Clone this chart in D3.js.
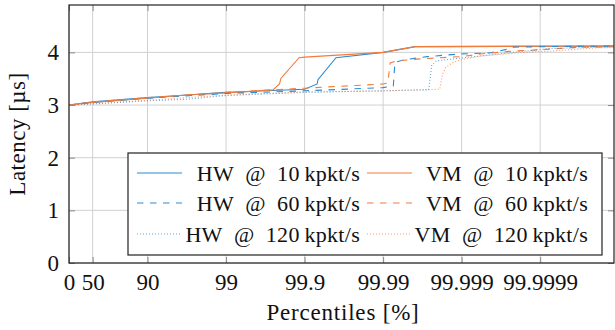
<!DOCTYPE html>
<html><head><meta charset="utf-8">
<script src="https://cdn.jsdelivr.net/npm/d3@7"></script>
<style>body{margin:0;background:#fff}</style>
</head><body><svg id="c" width="615" height="330"></svg>
<script>
// x values are in "nines": -log10(1 - p/100)
const tickLabels = ["0","50","90","99","99.9","99.99","99.999","99.9999"];
const yTicks = [0,1,2,3,4];
const seriesNames = ["HW\u2002@\u200210\u2009kpkt/s","VM\u2002@\u200210\u2009kpkt/s","HW\u2002@\u200260\u2009kpkt/s","VM\u2002@\u200260\u2009kpkt/s","HW\u2002@\u2002120\u2009kpkt/s","VM\u2002@\u2002120\u2009kpkt/s"];
const hw10x = [0,0.30,1.0,1.5,2.0,3.0,3.16,3.17,3.40,4.0,4.41,6.94];
const hw10y = [3.00,3.06,3.14,3.19,3.24,3.30,3.40,3.48,3.90,4.00,4.11,4.12];
const vm10x = [0,0.30,1.0,1.5,2.0,2.60,2.68,2.70,2.93,3.0,4.0,4.41,6.94];
const vm10y = [3.00,3.05,3.13,3.19,3.23,3.29,3.40,3.51,3.90,3.91,4.00,4.11,4.12];
const hw60x = [0,0.30,1.0,2.0,3.0,4.0,4.13,4.15,4.27,4.56,4.98,5.36,5.58,5.66,6.10,6.94];
const hw60y = [3.00,3.05,3.13,3.22,3.27,3.33,3.36,3.81,3.86,3.92,3.97,3.99,4.06,4.10,4.11,4.12];
const vm60x = [0,0.30,1.0,2.0,3.0,4.0,4.06,4.09,4.18,4.5,5.0,5.24,5.6,6.0,6.4,6.8,6.94];
const vm60y = [3.00,3.06,3.14,3.24,3.32,3.40,3.42,3.80,3.84,3.88,3.92,3.97,4.02,4.05,4.09,4.11,4.12];
const hw120x = [0,0.30,1.0,1.5,2.0,3.0,4.0,4.58,4.62,4.68,4.98,5.66,6.09,6.5,6.94];
const hw120y = [3.00,3.02,3.08,3.11,3.18,3.24,3.27,3.29,3.76,3.84,3.89,4.00,4.07,4.09,4.10];
const vm120x = [0,0.30,1.0,2.0,3.0,4.0,4.72,4.76,4.80,4.88,4.98,5.24,5.95,6.09,6.76,6.94];
const vm120y = [3.00,3.03,3.09,3.19,3.25,3.27,3.30,3.60,3.72,3.80,3.86,3.93,4.02,4.02,4.09,4.09];

const FONT = '"Liberation Serif","DejaVu Serif",serif';
const blue = "#2a8cd2", orange = "#f37b3a";
const series = [
  {name:seriesNames[0], xs:hw10x, ys:hw10y, color:blue, dash:null, op:1},
  {name:seriesNames[1], xs:vm10x, ys:vm10y, color:orange, dash:null, op:1},
  {name:seriesNames[2], xs:hw60x, ys:hw60y, color:blue, dash:"6.5,6.5", op:1},
  {name:seriesNames[3], xs:vm60x, ys:vm60y, color:orange, dash:"6.5,6.5", op:1},
  {name:seriesNames[4], xs:hw120x, ys:hw120y, color:blue, dash:"1,2", op:0.75},
  {name:seriesNames[5], xs:vm120x, ys:vm120y, color:orange, dash:"1,2", op:0.75}
];

const L=69, R=614, T=5, B=263;
const pctToNines = p => -Math.log10(1 - p/100);
const x = d3.scaleLinear().domain([0, 6.94]).range([L, R]);
const y = d3.scaleLinear().domain([0, 4.9]).range([B, T]);
const svg = d3.select("#c");

const xTickVals = tickLabels.map(s => pctToNines(+s));
// grid
svg.append("g").selectAll("line").data(xTickVals).join("line")
  .attr("x1", d=>x(d)).attr("x2", d=>x(d)).attr("y1", T).attr("y2", B)
  .attr("stroke", "#d0d0d0").attr("stroke-width", 1);
svg.append("g").selectAll("line").data(yTicks).join("line")
  .attr("x1", L).attr("x2", R).attr("y1", d=>y(d)).attr("y2", d=>y(d))
  .attr("stroke", "#d0d0d0").attr("stroke-width", 1);

// axes (ticks inside)
const xAxis = d3.axisBottom(x).tickValues(xTickVals).tickSizeInner(-6).tickSizeOuter(0).tickPadding(11)
  .tickFormat((d,i)=>tickLabels[i]);
const gx = svg.append("g").attr("transform",`translate(0,${B})`).call(xAxis);
gx.attr("font-family", FONT);
gx.select(".domain").remove();
gx.selectAll("line").attr("stroke","#8a8a8a");
gx.selectAll("text").attr("font-size",23).attr("fill","#111").style("font-family",FONT);
const xTop = d3.axisTop(x).tickValues(xTickVals).tickSizeInner(-6).tickSizeOuter(0).tickFormat("");
const gxt = svg.append("g").attr("transform",`translate(0,${T})`).call(xTop);
gxt.select(".domain").remove(); gxt.selectAll("line").attr("stroke","#8a8a8a");

const yAxis = d3.axisLeft(y).tickValues(yTicks).tickSizeInner(-6).tickSizeOuter(0).tickPadding(10).tickFormat(d3.format("d"));
const gy = svg.append("g").attr("transform",`translate(${L},0)`).call(yAxis);
gy.attr("font-family", FONT);
gy.select(".domain").remove();
gy.selectAll("line").attr("stroke","#8a8a8a");
gy.selectAll("text").attr("font-size",23).attr("fill","#111").style("font-family",FONT);
const yRight = d3.axisRight(y).tickValues(yTicks).tickSizeInner(-6).tickSizeOuter(0).tickFormat("");
const gyr = svg.append("g").attr("transform",`translate(${R},0)`).call(yRight);
gyr.select(".domain").remove(); gyr.selectAll("line").attr("stroke","#8a8a8a");

// lines
const line = d3.line().x(d=>x(d[0])).y(d=>y(d[1]));
series.forEach(s=>{
  const pts = s.xs.map((v,i)=>[v, s.ys[i]]);
  svg.append("path").datum(pts).attr("d", line).attr("fill","none")
    .attr("stroke", s.color).attr("stroke-width", 1.1).attr("stroke-opacity", s.op)
    .attr("stroke-dasharray", s.dash);
});

// frame
svg.append("rect").attr("x",L).attr("y",T).attr("width",R-L).attr("height",B-T)
  .attr("fill","none").attr("stroke","#222").attr("stroke-width",1.2);

// legend
const lg = svg.append("g");
lg.append("rect").attr("x",128).attr("y",153).attr("width",474).attr("height",102)
  .attr("fill","#fff").attr("stroke","#222").attr("stroke-width",1.2);
const rowY = [173, 203, 234];
const colLine = [137, 367], colTextEnd = [360, 588];
series.forEach((s,i)=>{
  const c = i%2, r = Math.floor(i/2);
  lg.append("path").attr("d", `M${colLine[c]},${rowY[r]}H${colLine[c]+45}`).attr("fill","none")
    .attr("stroke",s.color).attr("stroke-width",1.2).attr("stroke-opacity",s.op).attr("stroke-dasharray",s.dash);
  lg.append("text").attr("x",colTextEnd[c]).attr("y",rowY[r]+7.5).attr("text-anchor","end")
    .attr("font-size",22).attr("letter-spacing",0.3).attr("fill","#111").style("font-family",FONT).text(s.name);
});

// axis titles
svg.append("text").attr("x",343).attr("y",320).attr("text-anchor","middle")
  .attr("font-size",23).attr("letter-spacing",0.8).attr("fill","#111").style("font-family",FONT).text("Percentiles [%]");
svg.append("text").attr("transform",`translate(25,${(T+B)/2}) rotate(-90)`).attr("text-anchor","middle")
  .attr("font-size",23).attr("letter-spacing",0.5).attr("fill","#111").style("font-family",FONT).text("Latency [µs]");
</script></body></html>
